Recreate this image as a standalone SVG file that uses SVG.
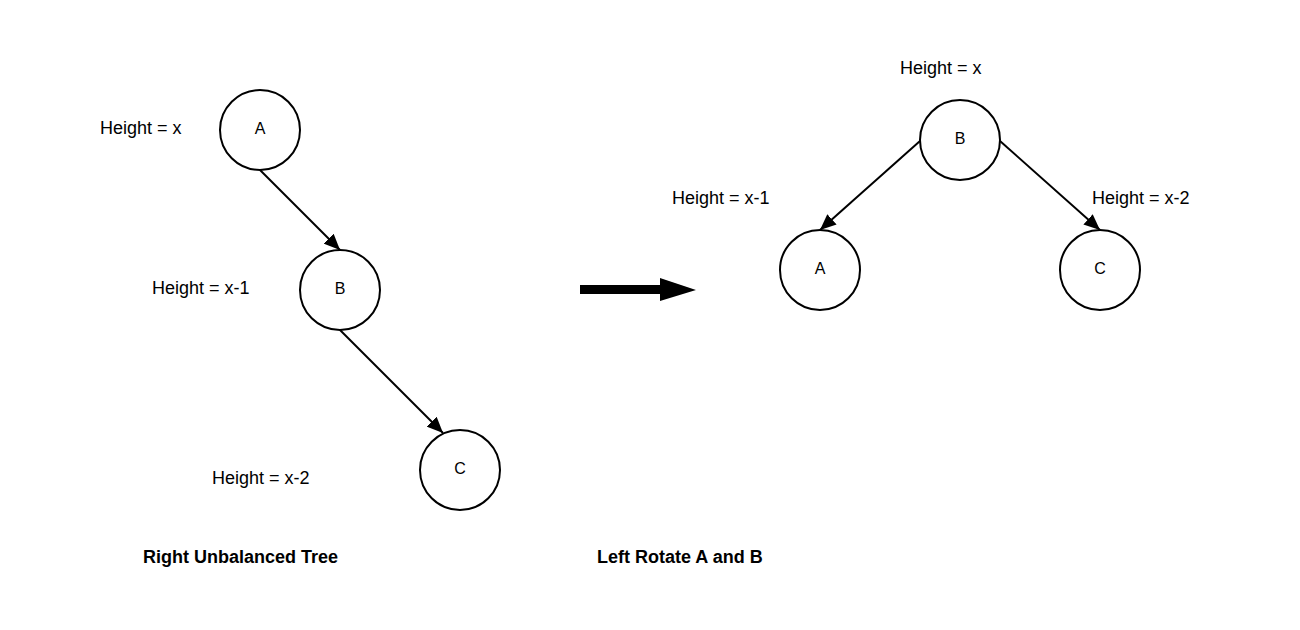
<svg xmlns="http://www.w3.org/2000/svg" width="1300" height="630" viewBox="0 0 1300 630">
<defs>
<marker id="ah" markerWidth="8" markerHeight="7" refX="8" refY="3.5" orient="auto" markerUnits="strokeWidth">
<path d="M0,0 L8,3.5 L0,7 Z" fill="#000"/>
</marker>
<style>
.node circle{fill:#fff;stroke:#000;stroke-width:2}
.node text{font-family:"Liberation Sans",Arial,sans-serif;font-size:16px;text-anchor:middle;fill:#000}
.lbl{font-family:"Liberation Sans",Arial,sans-serif;font-size:18px;fill:#000}
.title{font-family:"Liberation Sans",Arial,sans-serif;font-size:18px;font-weight:bold;fill:#000}
.edge{stroke:#000;stroke-width:2;fill:none;marker-end:url(#ah)}
</style>
</defs>
<rect width="1300" height="630" fill="#fff"/>
<g id="connectors">
<line class="edge" x1="260" y1="170" x2="340" y2="250"/>
<line class="edge" x1="340" y1="330" x2="443" y2="433"/>
<line class="edge" x1="920" y1="141" x2="820" y2="230"/>
<line class="edge" x1="1000" y1="141" x2="1100" y2="230"/>
<path d="M580,285 L660,285 L660,278 L696,290 L660,301 L660,294 L580,294 Z" fill="#000"/>
</g>
<g id="nodeA1" class="node"><circle cx="260" cy="130" r="40"/><text x="260" y="134">A</text></g>
<g id="nodeB1" class="node"><circle cx="340" cy="290" r="40"/><text x="340" y="294">B</text></g>
<g id="nodeC1" class="node"><circle cx="460" cy="470" r="40"/><text x="460" y="474">C</text></g>
<g id="nodeB2" class="node"><circle cx="960" cy="140" r="40"/><text x="960" y="144">B</text></g>
<g id="nodeA2" class="node"><circle cx="820" cy="270" r="40"/><text x="820" y="274">A</text></g>
<g id="nodeC2" class="node"><circle cx="1100" cy="270" r="40"/><text x="1100" y="274">C</text></g>
<g id="labels">
<text class="lbl" x="100" y="134">Height = x</text>
<text class="lbl" x="152" y="294">Height = x-1</text>
<text class="lbl" x="212" y="484">Height = x-2</text>
<text class="lbl" x="900" y="74">Height = x</text>
<text class="lbl" x="672" y="204">Height = x-1</text>
<text class="lbl" x="1092" y="204">Height = x-2</text>
<text class="title" x="143" y="563">Right Unbalanced Tree</text>
<text class="title" x="597" y="563">Left Rotate A and B</text>
</g>
</svg>
